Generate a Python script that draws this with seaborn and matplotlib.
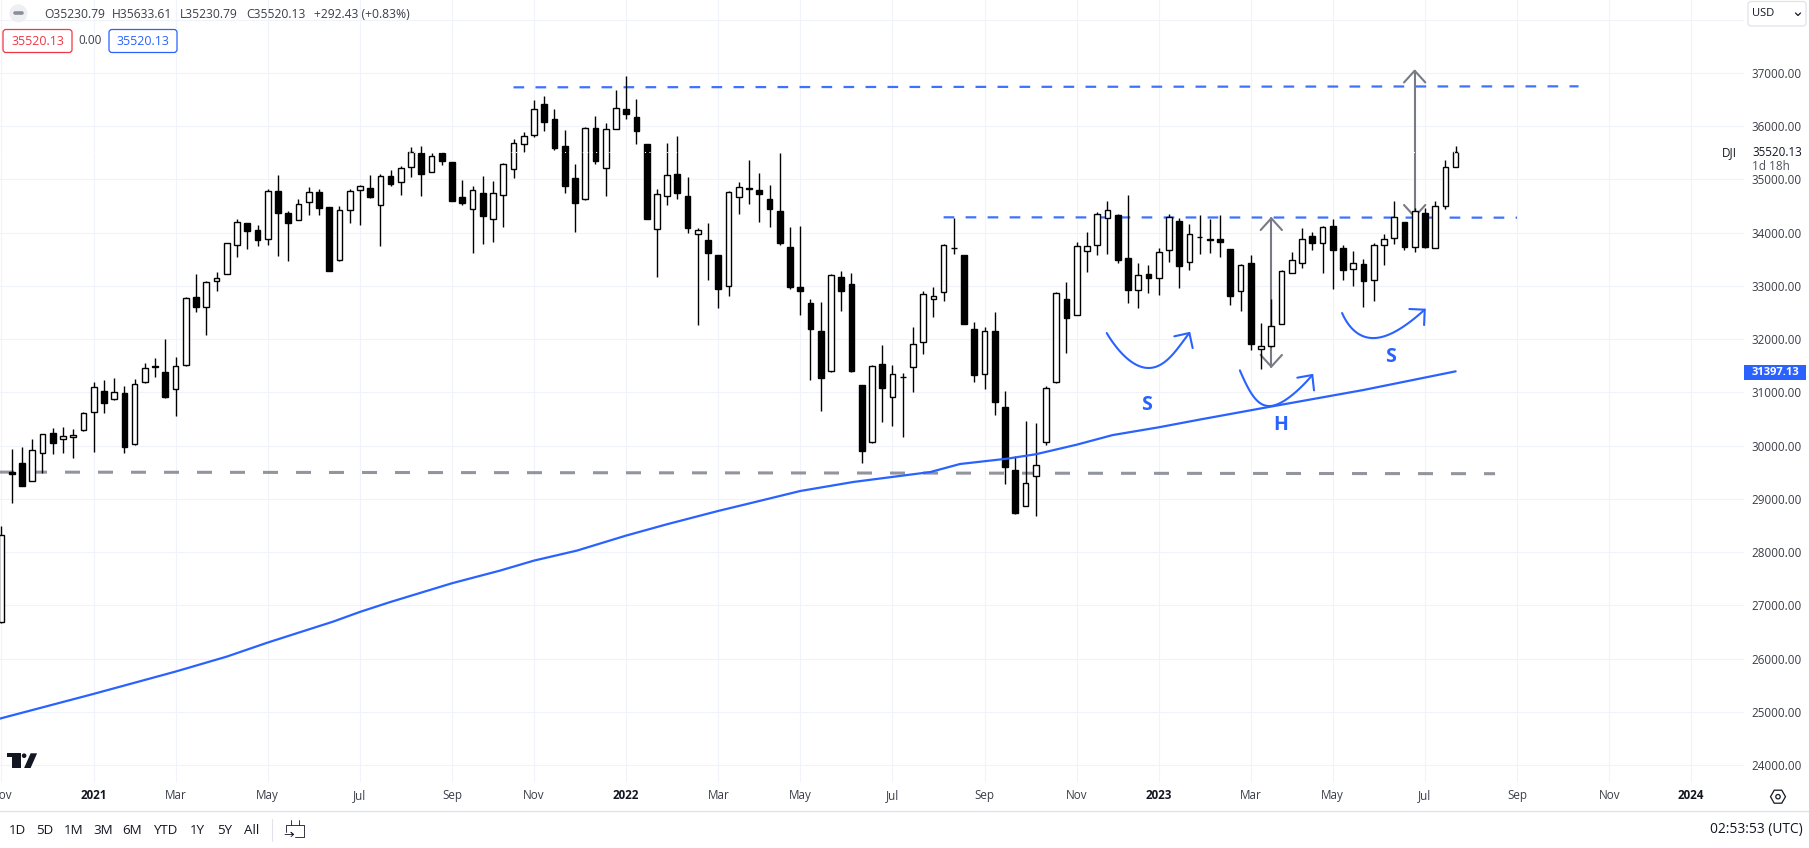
import numpy as np
import matplotlib
matplotlib.use('Agg')
import matplotlib.pyplot as plt
import seaborn as sns
from matplotlib.patches import Circle, FancyBboxPatch, Polygon, Rectangle, RegularPolygon

# weekly DJI candles (one value per week)
candle_open = [
    26688, 29500, 29674, 29336, 29862, 30238, 30125, 30163, 30294, 30628,
    31022, 30883, 30985, 30038, 31191, 31500, 31379, 31060, 31511, 32788,
    32600, 33088, 33220, 33764, 34177, 34046, 33888, 34784, 34365, 34245,
    34572, 34760, 34478, 33483, 34421, 34797, 34835, 34515, 35060, 34959,
    35229, 35492, 35146, 35492, 35323, 34666, 34452, 34741, 34264, 34714,
    35203, 35672, 35830, 36418, 36136, 35629, 35022, 34628, 35967, 35216,
    35948, 36330, 36180, 35667, 34070, 34690, 35109, 34696, 33976, 33870,
    33588, 33000, 34671, 34847, 34809, 34640, 34415, 33738, 32987, 32687,
    32161, 31397, 33175, 33044, 31146, 30069, 31540, 30914, 31285, 31479,
    31948, 32756, 32887, 33710, 33588, 32192, 31347, 32161, 30732, 29549,
    28867, 29430, 30069, 31197, 32762, 32455, 33657, 33770, 34277, 34340,
    33526, 32925, 33225, 33150, 33676, 34221, 33450, 33915, 33882, 33882,
    33701, 32906, 33438, 31817, 31873, 32286, 33244, 33432, 33945, 33807,
    34127, 33713, 33319, 33419, 33112, 33770, 33901, 34208, 33732, 34371,
    33713, 34502, 35230.79]
candle_high = [
    28498, 29937, 29975, 30125, 30225, 30332, 30350, 30313, 30638, 31191,
    31235, 31267, 31122, 31253, 31548, 31642, 32000, 31661, 32790, 33220,
    33090, 33263, 33802, 34253, 34180, 34140, 34816, 35084, 34408, 34628,
    34854, 34816, 34478, 34502, 34816, 34891, 35084, 35103, 35178, 35253,
    35610, 35629, 35492, 35500, 35323, 34990, 34878, 35066, 34972, 35315,
    35755, 35892, 36493, 36568, 36324, 35930, 35291, 35990, 36192, 36061,
    36687, 36950, 36512, 35667, 34822, 35685, 35823, 35053, 34095, 34189,
    33590, 34780, 34959, 35372, 35122, 34903, 35504, 34114, 34133, 32762,
    32706, 33225, 33288, 33244, 31150, 31521, 31897, 31521, 31371, 32236,
    32906, 32987, 33780, 34277, 33588, 32330, 32230, 32518, 31033, 29812,
    30470, 30432, 31127, 32887, 33075, 33832, 34008, 34390, 34602, 34345,
    34715, 33432, 33394, 33713, 34358, 34277, 34170, 34340, 34264, 34340,
    33701, 33419, 33588, 32311, 32762, 33306, 33645, 34095, 34020, 34120,
    34264, 33770, 33663, 33507, 33807, 33983, 34602, 34208, 34458, 34465,
    34602, 35366, 35633.61]
candle_low = [
    26680, 28917, 29236, 29330, 29480, 29837, 29856, 29762, 30285, 29888,
    30620, 30860, 29869, 30020, 31180, 31297, 30900, 30564, 31500, 32517,
    32085, 32912, 33220, 33550, 33700, 33751, 33770, 33563, 33475, 34240,
    34333, 34333, 33287, 33475, 34189, 34146, 34658, 33751, 34878, 34709,
    35053, 34690, 35140, 35272, 34602, 34521, 33620, 33789, 33832, 34113,
    35028, 35522, 35804, 35916, 35560, 34752, 34020, 34620, 35291, 34684,
    35940, 36130, 35660, 34252, 33163, 34515, 34627, 33989, 32274, 33119,
    32593, 32818, 34358, 34546, 34208, 34114, 33776, 32944, 32461, 31241,
    30646, 31378, 32524, 31390, 29668, 30060, 30438, 30363, 30156, 31003,
    31717, 32411, 32712, 33595, 32280, 31191, 31059, 30571, 29274, 28720,
    28860, 28673, 30006, 31178, 31735, 32450, 33256, 33576, 33595, 33425,
    32674, 32580, 32862, 32825, 33444, 32956, 33294, 33595, 33613, 33538,
    32649, 32524, 31792, 31447, 31860, 32280, 33240, 33344, 33682, 33250,
    32950, 33119, 33006, 32599, 32712, 33400, 33795, 33670, 33632, 33720,
    33710, 34440, 35230.79]
candle_close = [
    28329, 29460, 29249, 29919, 30219, 30044, 30175, 30200, 30613, 31097,
    30808, 31003, 29982, 31154, 31454, 31470, 30921, 31492, 32769, 32611,
    33069, 33145, 33802, 34196, 34038, 33870, 34784, 34376, 34189, 34534,
    34760, 34470, 33287, 34421, 34778, 34872, 34677, 35060, 34915, 35210,
    35511, 35109, 35447, 35347, 34602, 34559, 34797, 34320, 34741, 35285,
    35680, 35811, 36318, 36085, 35597, 34884, 34564, 35967, 35353, 35948,
    36343, 36224, 35904, 34252, 34728, 35084, 34740, 34083, 34052, 33613,
    32937, 34765, 34859, 34815, 34721, 34440, 33801, 32975, 32900, 32186,
    31266, 33206, 32900, 31397, 29894, 31502, 31089, 31346, 31295, 31911,
    32850, 32812, 33770, 33716, 32280, 31322, 32155, 30815, 29593, 28729,
    29299, 29637, 31083, 32868, 32393, 33751, 33751, 34352, 34421, 33482,
    32918, 33206, 33144, 33638, 34296, 33369, 33976, 33925, 33857, 33820,
    32806, 33394, 31904, 31873, 32249, 33281, 33488, 33882, 33801, 34108,
    33670, 33294, 33432, 33088, 33770, 33882, 34296, 33726, 34408, 33726,
    34502, 35235, 35520.13]

# moving average line
sma_week = [-0.15, 9, 17, 22, 26, 32.4, 35, 37.9, 44, 48.7, 52, 56.2, 61, 65, 70,
            73.1, 78, 83.2, 90.7, 93.6, 98.2, 101, 105, 108.5, 113, 117, 123.9, 133, 142]
sma_value = [24876, 25340, 25759, 26040, 26304, 26698, 26879, 27061, 27418, 27656,
             27843, 28031, 28313, 28526, 28776, 28920, 29150, 29320, 29506, 29657,
             29757, 29840, 30020, 30200, 30346, 30491, 30733, 31047, 31397]

# drawn levels
resist_top_week = [50, 154]
resist_top_price = [36731, 36750]
neckline_week = [92, 148]
neckline_price = [34290, 34283]
support_week = [-0.64, 145.85]
support_price = [29505, 29475]

# measured move arrows
move_week = [124, 138]
move_top = [34271, 37043]
move_bottom = [31485, 34301]

# hand drawn shoulders and head
left_s_week = [107.93, 109.07, 110.53, 112, 113.46, 114.76, 116]
left_s_price = [32117, 31804, 31554, 31460, 31554, 31804, 32117]
left_s_head_week = [114.53, 116, 116.32]
left_s_head_price = [32055, 32117, 31835]
head_week = [120.95, 121.92, 123.22, 124.04, 125.5, 126.8, 128]
head_price = [31416, 30990, 30790, 30752, 30865, 31084, 31328]
head_head_week = [126.54, 128, 128.17]
head_head_price = [31278, 31328, 31040]
right_s_week = [130.91, 131.69, 132.67, 133.81, 135.27, 136.9, 138.98]
right_s_price = [32493, 32242, 32086, 32023, 32067, 32242, 32555]
right_s_head_week = [137.48, 138.98, 138.92]
right_s_head_price = [32568, 32555, 32267]

# axis labels
tick_weeks = [0, 9, 17, 26, 35, 44, 52, 61, 70, 78, 87, 96, 105, 113, 122, 130, 139, 148, 157, 165]
tick_names = ['Nov', '2021', 'Mar', 'May', 'Jul', 'Sep', 'Nov', '2022', 'Mar', 'May', 'Jul', 'Sep',
              'Nov', '2023', 'Mar', 'May', 'Jul', 'Sep', 'Nov', '2024']
price_ticks = [24000, 25000, 26000, 27000, 28000, 29000, 30000, 31000,
               32000, 33000, 34000, 35000, 36000, 37000]
range_buttons = ['1D', '5D', '1M', '3M', '6M', 'YTD', '1Y', '5Y', 'All']
range_button_x = [17, 45, 74, 103, 132, 165, 197.5, 224.6, 252]
header_parts = ['O35230.79', 'H35633.61', 'L35230.79', 'C35520.13', '+292.43 (+0.83%)']
header_x = [44, 112, 180, 246.5, 314]

last_close = 35520.13
sma_last = 31397.13

BLUE = '#2962ff'
GREY = '#787b86'
DARK = '#131722'
GRID = '#f0f3fa'

sns.set_theme(style='white')
plt.rcParams['font.family'] = ['Open Sans', 'DejaVu Sans']

fig = plt.figure(figsize=(18.09, 8.48), dpi=100)
ax = fig.add_axes([0, 66 / 848, 1744 / 1809, 782 / 848])
ax.set_xlim(-0.146, 170.16)
ax.set_ylim(23685, 38371)

# grid and axes
ax.set_xticks(tick_weeks)
ax.set_xticklabels(tick_names)
ax.set_yticks(price_ticks)
ax.set_yticklabels([f'{p:.2f}' for p in price_ticks])
ax.set_yticks([38000], minor=True)
ax.yaxis.tick_right()
ax.grid(True, which='both', color=GRID, lw=0.8)
ax.set_axisbelow(True)
ax.tick_params(axis='both', which='both', length=0, labelsize=8.4, labelcolor='#3b3e49')
ax.tick_params(axis='y', pad=5.6)
ax.tick_params(axis='x', pad=5)
sns.despine(ax=ax, left=True, right=True, top=True, bottom=True)
for lab in ax.get_xticklabels():
    if lab.get_text().startswith('20'):
        lab.set_fontweight('bold')
        lab.set_color(DARK)

# levels sit under the candles
sns.lineplot(x=resist_top_week, y=resist_top_price, ax=ax, color=BLUE, lw=1.6, alpha=0.9,
             linestyle=(0, (4.8, 5.1)), zorder=2)
sns.lineplot(x=neckline_week, y=neckline_price, ax=ax, color=BLUE, lw=1.6, alpha=0.9,
             linestyle=(0, (4.8, 5.1)), zorder=2)
sns.lineplot(x=support_week, y=support_price, ax=ax, color=GREY, lw=2.2, alpha=0.8,
             linestyle=(0, (4.91, 5.89)), zorder=2)

# measured move arrows
for wk, top, bot in zip(move_week, move_top, move_bottom):
    ax.plot([wk, wk], [bot, top], color=GREY, lw=1.5, zorder=2)
    ax.plot([wk - 1.04, wk, wk + 1.04], [top - 220, top, top - 220], color=GREY, lw=1.5, zorder=2)
    ax.plot([wk - 1.04, wk, wk + 1.04], [bot + 220, bot, bot + 220], color=GREY, lw=1.5, zorder=2)

# candles
weeks = np.arange(len(candle_close))
o = np.array(candle_open)
h = np.array(candle_high)
l = np.array(candle_low)
c = np.array(candle_close)
up = c >= o
ax.vlines(weeks, l, h, color='black', lw=1.0, zorder=3)
ax.bar(weeks[up], (c - o)[up], bottom=o[up], width=0.56, color='white', edgecolor='black', lw=1.0, zorder=4)
ax.bar(weeks[~up], (o - c)[~up], bottom=c[~up], width=0.56, color='black', edgecolor='black', lw=1.0, zorder=4)

# moving average on top
sns.lineplot(x=sma_week, y=sma_value, ax=ax, color=BLUE, lw=1.6, zorder=5)


def smooth(wk, price):
    # round off the few points
    t = np.linspace(0, 1, len(wk))
    tt = np.linspace(0, 1, 80)
    return np.polyval(np.polyfit(t, wk, 4), tt), np.polyval(np.polyfit(t, price, 4), tt)


for cx, cy, hx, hy in [(left_s_week, left_s_price, left_s_head_week, left_s_head_price),
                       (head_week, head_price, head_head_week, head_head_price),
                       (right_s_week, right_s_price, right_s_head_week, right_s_head_price)]:
    sx, sy = smooth(cx, cy)
    ax.plot(sx, sy, color=BLUE, lw=1.5, zorder=5, solid_capstyle='round')
    ax.plot(hx, hy, color=BLUE, lw=1.5, zorder=5)

# dotted white price line
ax.axhline(last_close, color='white', lw=0.8, ls=(0, (1, 3)), zorder=6)

# overlay in pixels for the toolbar parts
ov = fig.add_axes([0, 0, 1, 1], zorder=10)
ov.set_xlim(0, 1809)
ov.set_ylim(848, 0)
ov.axis('off')
ov.patch.set_alpha(0)

ov.text(1146, 405, 'S', color=BLUE, fontsize=14, fontweight='bold', ha='center', va='center')
ov.text(1281, 425.5, 'H', color=BLUE, fontsize=14, fontweight='bold', ha='center', va='center')
ov.text(1391, 356.5, 'S', color=BLUE, fontsize=14, fontweight='bold', ha='center', va='center')

# header
ov.add_patch(Circle((18.4, 13.3), 9, color='#eeeff3', lw=0))
ov.plot([15, 22], [13.3, 13.3], color='#8a8d97', lw=2.6, solid_capstyle='round')
for part, hx in zip(header_parts, header_x):
    ov.text(hx, 14.5, part, fontsize=8.7, color='#3b3e49', va='center')
ov.add_patch(FancyBboxPatch((3, 29.5), 69, 23, boxstyle='round,pad=0,rounding_size=3', fc='white', ec='#f23645', lw=0.9))
ov.text(37.5, 41.5, '35520.13', color='#f23645', fontsize=9, ha='center', va='center')
ov.text(90, 41, '0.00', color='#3b3e49', fontsize=8.5, ha='center', va='center')
ov.add_patch(FancyBboxPatch((109, 29.5), 68, 23, boxstyle='round,pad=0,rounding_size=3', fc='white', ec=BLUE, lw=0.9))
ov.text(143, 41.5, '35520.13', color=BLUE, fontsize=9, ha='center', va='center')

# currency box and right side tags
ov.add_patch(FancyBboxPatch((1748, 1.5), 58, 24.5, boxstyle='round,pad=0,rounding_size=3', fc='white', ec='#e0e3eb', lw=0.9))
ov.text(1752, 13.5, 'USD', color=DARK, fontsize=8, va='center')
ov.plot([1795.5, 1798, 1800.5], [13, 15.5, 13], color=DARK, lw=0.9)
ov.text(1722, 152.7, 'DJI', color=DARK, fontsize=8.5, va='center')
ov.text(1752, 152.7, f'{last_close:.2f}', color=DARK, fontsize=8.4, va='center')
ov.text(1752, 166.7, '1d 18h', color='#50535e', fontsize=8.5, va='center')
ov.add_patch(Rectangle((1744, 364.7), 62, 15.5, color=BLUE, lw=0))
ov.text(1752, 372.3, f'{sma_last:.2f}', color='white', fontsize=8.1, fontweight='bold', va='center')

# tradingview mark
ov.add_patch(Polygon([(6.9, 753.3), (21, 753.3), (21, 768), (12.2, 768), (12.2, 757.3), (6.9, 757.3)], color=DARK, lw=0))
ov.add_patch(Circle((24.1, 755.7), 2.3, color=DARK, lw=0))
ov.add_patch(Polygon([(30.6, 753.3), (37.1, 753.3), (30.6, 768), (24.1, 768)], color=DARK, lw=0))

# bottom strip
ov.plot([0, 1809], [810.5, 810.5], color='#e0e3eb', lw=1)
for name, bx in zip(range_buttons, range_button_x):
    ov.text(bx, 830, name, color=DARK, fontsize=9.6, ha='center', va='center')
ov.plot([271.7, 271.7], [819, 840.7], color='#e0e3eb', lw=0.8)
ov.plot([286, 286, 303.5, 303.5, 295], [832, 825, 825, 837.3, 837.3], color=DARK, lw=0.6)
ov.plot([291, 291], [820, 825], color=DARK, lw=0.6)
ov.plot([298.5, 298.5], [820, 825], color=DARK, lw=0.6)
ov.plot([285, 293.5, 291, 293.5, 291], [834.5, 834.5, 832.3, 834.5, 836.7], color=DARK, lw=0.6)
ov.text(1803, 830, '02:53:53 (UTC)', color=DARK, fontsize=9.9, ha='right', va='center')
ov.add_patch(RegularPolygon((1778, 796.7), 6, radius=7.5, orientation=np.pi / 6, fc='white', ec=DARK, lw=0.9))
ov.add_patch(Circle((1778, 796.7), 2.2, fc='white', ec=DARK, lw=0.9))

fig.savefig('out.png', dpi=100, facecolor='white')
plt.close(fig)
